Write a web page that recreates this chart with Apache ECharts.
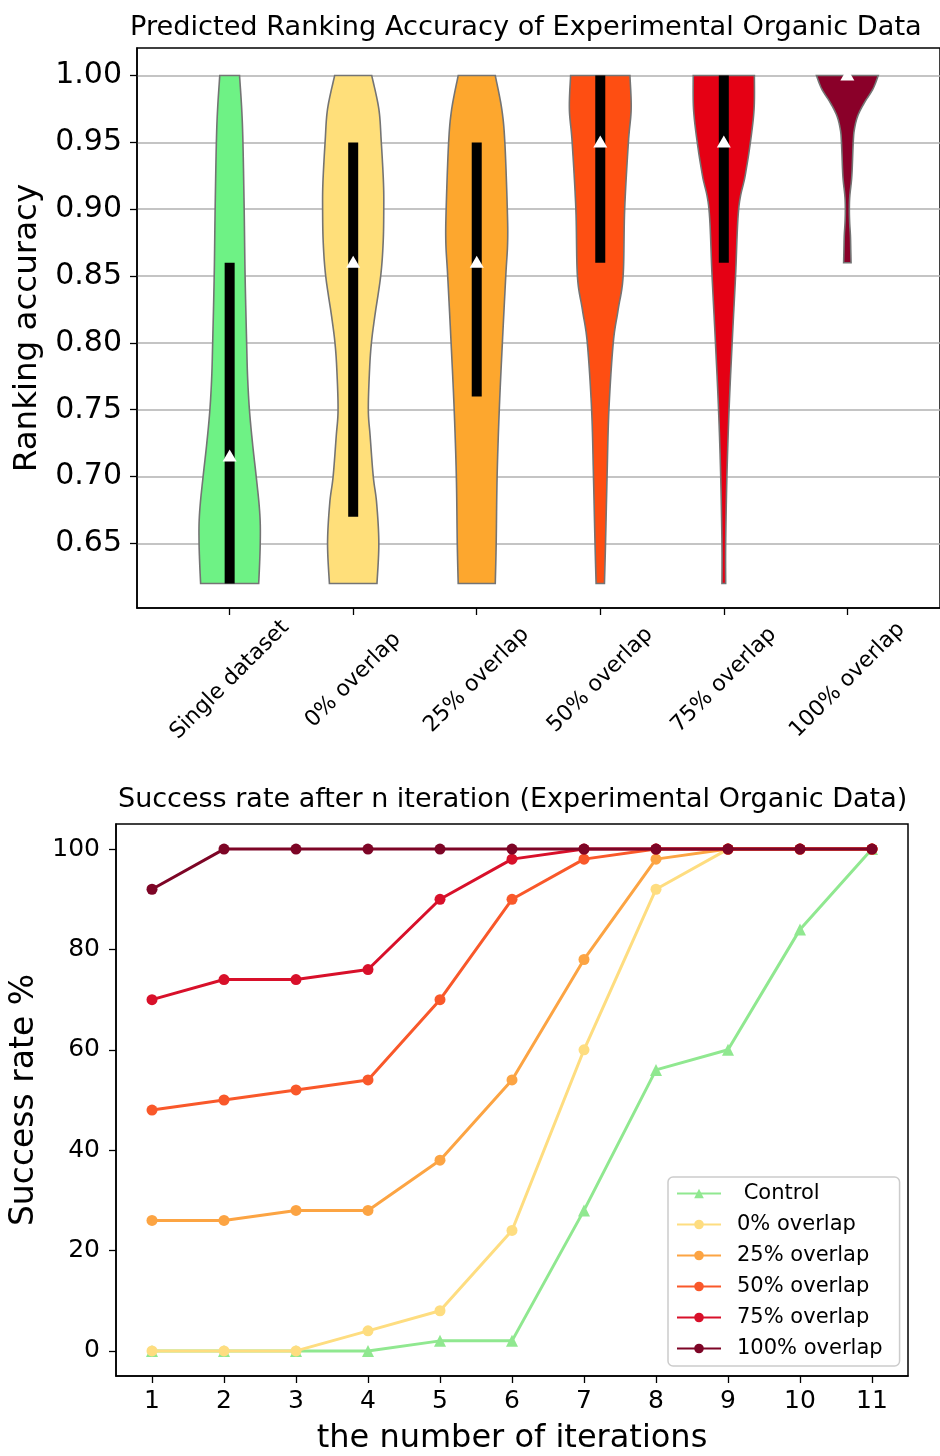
<!DOCTYPE html>
<html>
<head>
<meta charset="utf-8">
<script src="https://cdn.jsdelivr.net/npm/echarts@6/dist/echarts.min.js"></script>
<style>html,body{margin:0;padding:0;background:#fff}#chart{width:940px;height:1456px}</style>
</head>
<body>
<div id="chart"></div>
<script>
// ---------- Top panel data (violin plot) ----------
const violinCategories = ['Single dataset', '0% overlap', '25% overlap', '50% overlap', '75% overlap', '100% overlap'];
const violinPositions = [1, 2, 3, 4, 5, 6];
const yTicksTop = [0.65, 0.70, 0.75, 0.80, 0.85, 0.90, 0.95, 1.00];

// density profile (relative half-width, 1 = widest) at accuracy levels
const singleLevels  = [0.62, 0.635, 0.65, 0.665, 0.68, 0.70, 0.725, 0.75, 0.775, 0.80, 0.85, 0.90, 0.95, 0.975, 1.00];
const singleWidths  = [0.94, 0.97, 0.99, 0.99, 0.95, 0.86, 0.74, 0.64, 0.58, 0.55, 0.50, 0.47, 0.43, 0.39, 0.32];
const ov0Levels     = [0.62, 0.65, 0.68, 0.70, 0.73, 0.75, 0.78, 0.80, 0.82, 0.85, 0.875, 0.90, 0.92, 0.95, 0.975, 1.00];
const ov0Widths     = [0.77, 0.83, 0.76, 0.65, 0.55, 0.49, 0.53, 0.59, 0.70, 0.89, 0.97, 0.99, 0.98, 0.91, 0.83, 0.60];
const ov25Levels    = [0.62, 0.65, 0.70, 0.75, 0.80, 0.85, 0.875, 0.90, 0.95, 0.975, 1.00];
const ov25Widths    = [0.60, 0.63, 0.66, 0.73, 0.83, 0.94, 1.00, 0.99, 0.91, 0.81, 0.60];
const ov50Levels    = [0.62, 0.65, 0.70, 0.75, 0.80, 0.825, 0.85, 0.90, 0.95, 0.975, 1.00];
const ov50Widths    = [0.135, 0.17, 0.22, 0.28, 0.42, 0.58, 0.74, 0.79, 0.91, 1.00, 0.96];
const ov75Levels    = [0.62, 0.65, 0.70, 0.75, 0.80, 0.85, 0.90, 0.925, 0.95, 0.975, 1.00];
const ov75Widths    = [0.06, 0.06, 0.10, 0.17, 0.27, 0.38, 0.48, 0.69, 0.86, 0.98, 0.99];
const ov100Levels   = [0.86, 0.87, 0.88, 0.89, 0.90, 0.91, 0.925, 0.95, 0.96, 0.97, 0.98, 0.99, 1.00];
const ov100Widths   = [0.12, 0.11, 0.10, 0.075, 0.065, 0.08, 0.145, 0.19, 0.23, 0.34, 0.56, 0.83, 1.00];

const quartileLow   = [0.62, 0.67, 0.76, 0.86, 0.86, null];
const quartileHigh  = [0.86, 0.95, 0.95, 1.00, 1.00, null];
const markerValues  = [0.715, 0.86, 0.86, 0.95, 0.95, 1.00];

// ---------- Bottom panel data (success rate) ----------
const iterations   = [1, 2, 3, 4, 5, 6, 7, 8, 9, 10, 11];
const yTicksBottom = [0, 20, 40, 60, 80, 100];
const lineNames    = [' Control', '0% overlap', '25% overlap', '50% overlap', '75% overlap', '100% overlap'];
const controlRate  = [0, 0, 0, 0, 2, 2, 28, 56, 60, 84, 100];
const ov0Rate      = [0, 0, 0, 4, 8, 24, 60, 92, 100, 100, 100];
const ov25Rate     = [26, 26, 28, 28, 38, 54, 78, 98, 100, 100, 100];
const ov50Rate     = [48, 50, 52, 54, 70, 90, 98, 100, 100, 100, 100];
const ov75Rate     = [70, 74, 74, 76, 90, 98, 100, 100, 100, 100, 100];
const ov100Rate    = [92, 100, 100, 100, 100, 100, 100, 100, 100, 100, 100];

// ---------- styles ----------
const FONT = 'DejaVu Sans';
const violinColors = ['#6ef285', '#ffdf7a', '#fda72e', '#fe4e12', '#e50014', '#8a0029'];
const lineColors = ['#90e890', '#fedd80', '#fca443', '#f9582a', '#d8102a', '#7d0526'];
const VIOLIN_HALF = 0.25;

const violinLevels = [singleLevels, ov0Levels, ov25Levels, ov50Levels, ov75Levels, ov100Levels];
const violinWidths = [singleWidths, ov0Widths, ov25Widths, ov50Widths, ov75Widths, ov100Widths];
const rateSeries = [controlRate, ov0Rate, ov25Rate, ov50Rate, ov75Rate, ov100Rate];

function spline(p, steps) {
  const out = [p[0]];
  for (let k = 0; k < p.length - 1; k++) {
    const p0 = p[Math.max(k - 1, 0)], p1 = p[k], p2 = p[k + 1], p3 = p[Math.min(k + 2, p.length - 1)];
    for (let s = 1; s <= steps; s++) {
      const t = s / steps, t2 = t * t, t3 = t2 * t;
      const f = (a, b, c, d) => 0.5 * ((2 * b) + (-a + c) * t + (2 * a - 5 * b + 4 * c - d) * t2 + (-a + 3 * b - 3 * c + d) * t3);
      out.push([f(p0[0], p1[0], p2[0], p3[0]), f(p0[1], p1[1], p2[1], p3[1])]);
    }
  }
  return out;
}

function renderViolin(params, api) {
  const i = params.dataIndex;
  const pos = api.value(0);
  const lv = violinLevels[i], wd = violinWidths[i];
  const left = [], right = [];
  for (let k = 0; k < lv.length; k++) {
    const hw = wd[k] * VIOLIN_HALF;
    left.push(api.coord([pos - hw, lv[k]]));
    right.push(api.coord([pos + hw, lv[k]]));
  }
  const pts = spline(left, 12).concat(spline(right, 12).reverse());
  const children = [{
    type: 'polygon', shape: { points: pts },
    style: { fill: violinColors[i], stroke: '#747474', lineWidth: 1.6 }
  }];
  if (quartileLow[i] != null) {
    const top = api.coord([pos, quartileHigh[i]]);
    const bot = api.coord([pos, quartileLow[i]]);
    children.push({ type: 'rect', shape: { x: top[0] - 5, y: top[1], width: 10, height: bot[1] - top[1] }, style: { fill: '#000' } });
  }
  const m = api.coord([pos, markerValues[i]]);
  children.push({
    type: 'polygon',
    shape: { points: [[m[0], m[1] - 7], [m[0] - 7, m[1] + 5], [m[0] + 7, m[1] + 5]] },
    style: { fill: '#fff' }
  });
  return { type: 'group', children };
}

const axisLineStyle = { show: true, onZero: false, lineStyle: { color: '#000', width: 1.5 } };
const tickStyle = { color: '#000', width: 1.3 };

const chart = echarts.init(document.getElementById('chart'));
chart.setOption({
  animation: false,
  backgroundColor: '#fff',
  title: [
    { text: 'Predicted Ranking Accuracy of Experimental Organic Data', left: 130, top: 14, padding: 0,
      textStyle: { fontFamily: FONT, fontSize: 27.2, fontWeight: 'normal', color: '#000' } },
    { text: 'Success rate after n iteration (Experimental Organic Data)', left: 118, top: 786, padding: 0,
      textStyle: { fontFamily: FONT, fontSize: 27, fontWeight: 'normal', color: '#000' } }
  ],
  grid: [
    { left: 137, top: 48, width: 806, height: 560, show: true, borderColor: '#000', borderWidth: 1.5 },
    { left: 113, top: 824, width: 795, height: 555, show: true, borderColor: '#000', borderWidth: 1.5 }
  ],
  xAxis: [
    { gridIndex: 0, type: 'value', min: 0.25, max: 6.75,
      axisLine: axisLineStyle,
      axisTick: { show: true, customValues: violinPositions, length: 7, lineStyle: tickStyle },
      axisLabel: { customValues: violinPositions, formatter: v => violinCategories[violinPositions.indexOf(Math.round(v))],
        rotate: 45, align: 'center', verticalAlign: 'middle', margin: 72,
        fontFamily: FONT, fontSize: 22, color: '#000' },
      splitLine: { show: false } },
    { gridIndex: 1, type: 'value', min: 0.5, max: 11.5,
      axisLine: axisLineStyle,
      axisTick: { show: true, customValues: iterations, length: 7, lineStyle: tickStyle },
      axisLabel: { customValues: iterations, fontFamily: FONT, fontSize: 25, color: '#000', margin: 13 },
      splitLine: { show: false },
      name: 'the number of iterations', nameLocation: 'middle', nameGap: 47,
      nameTextStyle: { fontFamily: FONT, fontSize: 32, color: '#000' } }
  ],
  yAxis: [
    { gridIndex: 0, type: 'value', min: 0.6017, max: 1.0206,
      axisLine: axisLineStyle,
      axisTick: { show: true, customValues: yTicksTop, length: 7, lineStyle: tickStyle },
      axisLabel: { customValues: yTicksTop, formatter: v => v.toFixed(2), fontFamily: FONT, fontSize: 30, color: '#000', margin: 15 },
      splitLine: { show: true, lineStyle: { color: '#b0b0b0', width: 1.5 } },
      name: 'Ranking accuracy', nameLocation: 'middle', nameGap: 90,
      nameTextStyle: { fontFamily: FONT, fontSize: 32.5, color: '#000' } },
    { gridIndex: 1, type: 'value', min: -5, max: 105,
      axisLine: axisLineStyle,
      axisTick: { show: true, customValues: yTicksBottom, length: 7, lineStyle: tickStyle },
      axisLabel: { customValues: yTicksBottom, fontFamily: FONT, fontSize: 25, color: '#000', margin: 16 },
      splitLine: { show: false },
      name: 'Success rate %', nameLocation: 'middle', nameGap: 75,
      nameTextStyle: { fontFamily: FONT, fontSize: 33, color: '#000' } }
  ],
  legend: {
    data: lineNames, orient: 'vertical', left: 668, top: 1177,
    padding: [6, 17, 7, 8], itemWidth: 44, itemHeight: 12, itemGap: 10,
    backgroundColor: 'rgba(255,255,255,0.8)', borderColor: '#cccccc', borderWidth: 1.5, borderRadius: 5,
    selectedMode: false,
    textStyle: { fontFamily: FONT, fontSize: 21, color: '#000', padding: [0, 0, 0, 11] }
  },
  series: [
    { type: 'custom', xAxisIndex: 0, yAxisIndex: 0, renderItem: renderViolin,
      data: violinPositions.map(p => [p]), silent: true, z: 3 }
  ].concat(lineNames.map((name, i) => ({
    type: 'line', name, xAxisIndex: 1, yAxisIndex: 1,
    data: iterations.map((x, k) => [x, rateSeries[i][k]]),
    symbol: i === 0 ? 'triangle' : 'circle', symbolSize: i === 0 ? 12 : 11,
    lineStyle: { color: lineColors[i], width: 3 },
    itemStyle: { color: lineColors[i] },
    emphasis: { disabled: true }, silent: true, z: 3 + i
  })))
});
</script>
</body>
</html>
